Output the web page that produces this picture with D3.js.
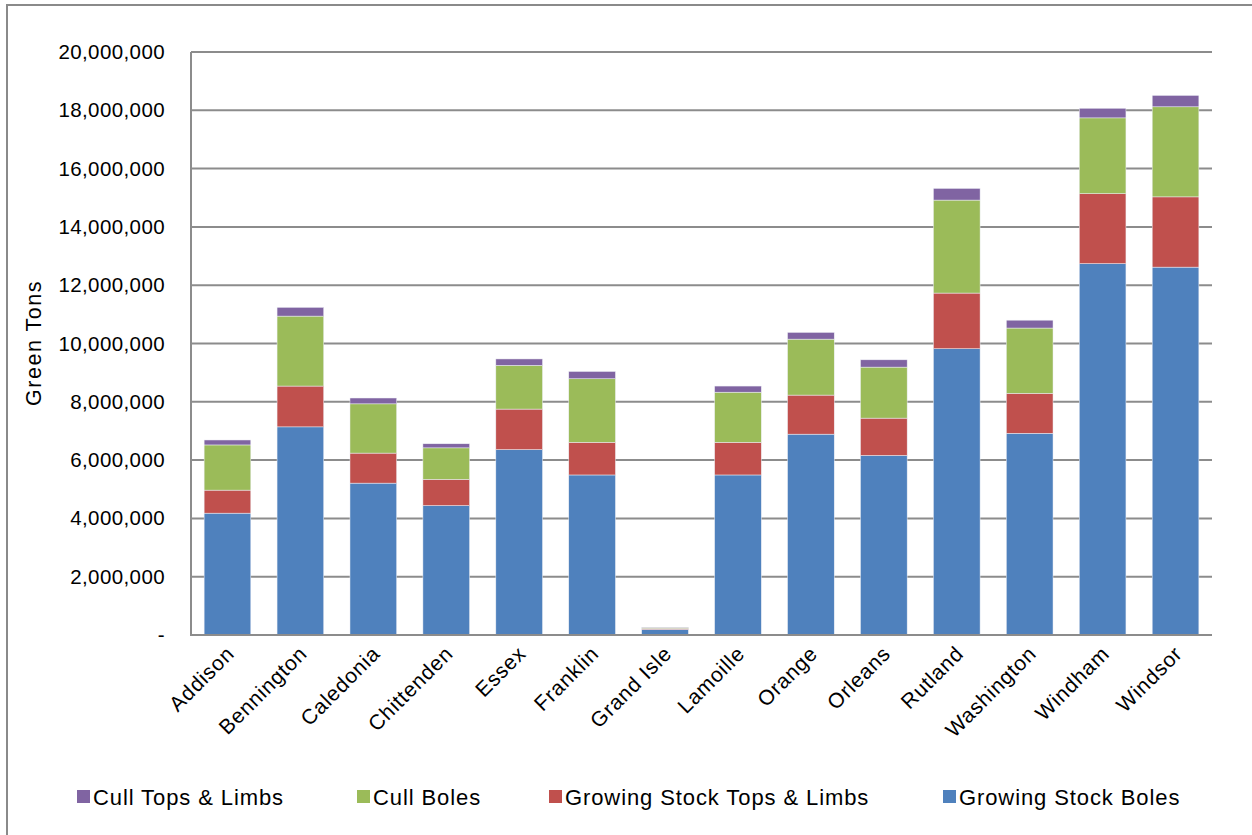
<!DOCTYPE html>
<html><head><meta charset="utf-8">
<script src="https://cdn.jsdelivr.net/npm/d3@7"></script>
<style>body{margin:0;background:#fff}svg{display:block}text{font-family:"Liberation Sans",Arial,sans-serif;fill:#000}</style>
</head><body>
<script>
const counties = ["Addison","Bennington","Caledonia","Chittenden","Essex","Franklin","Grand Isle","Lamoille","Orange","Orleans","Rutland","Washington","Windham","Windsor"];
const growingStockBoles = [4180000,7140000,5210000,4440000,6360000,5490000,190000,5490000,6890000,6160000,9820000,6920000,12740000,12620000];
const growingStockTopsLimbs = [790000,1400000,1030000,900000,1390000,1120000,35000,1120000,1340000,1280000,1910000,1370000,2400000,2410000];
const cullBoles = [1550000,2400000,1690000,1080000,1500000,2180000,30000,1720000,1920000,1750000,3190000,2240000,2600000,3090000];
const cullTopsLimbs = [170000,300000,200000,140000,220000,250000,8000,210000,230000,250000,400000,270000,330000,390000];
const seriesNames = ["Growing Stock Boles","Growing Stock Tops & Limbs","Cull Boles","Cull Tops & Limbs"];
const seriesColors = ["#4F81BD","#C0504D","#9BBB59","#8064A2"];
const yTicks = [0,2000000,4000000,6000000,8000000,10000000,12000000,14000000,16000000,18000000,20000000];
const legendOrder = ["Cull Tops & Limbs","Cull Boles","Growing Stock Tops & Limbs","Growing Stock Boles"];

const W=1252,H=835;
const svg=d3.select("body").append("svg").attr("width",W).attr("height",H);
svg.append("rect").attr("x",7).attr("y",5).attr("width",1270).attr("height",850)
  .attr("fill","none").attr("stroke","#8a8a8a").attr("stroke-width",2);

const L=191,R=1212,T=52,B=635;
const x=d3.scaleBand().domain(counties).range([L,R]).paddingInner(0.36).paddingOuter(0.18);
const y=d3.scaleLinear().domain([0,20000000]).range([B,T]);

const table=counties.map((c,i)=>({county:c,
  "Growing Stock Boles":growingStockBoles[i],
  "Growing Stock Tops & Limbs":growingStockTopsLimbs[i],
  "Cull Boles":cullBoles[i],
  "Cull Tops & Limbs":cullTopsLimbs[i]}));
const stacked=d3.stack().keys(seriesNames)(table);

// y axis labels
const yAxis=d3.axisLeft(y).tickValues(yTicks).tickSize(0).tickPadding(26)
  .tickFormat(d=>d===0?"-":d3.format(",")(d));
const ga=svg.append("g").attr("transform",`translate(${L},0)`).call(yAxis);
ga.select(".domain").remove();
ga.selectAll("text").style("font-size","20.5px").style("letter-spacing","0.4px")
  .attr("font-family","Liberation Sans, Arial, sans-serif");
// gridlines
svg.append("g").selectAll("line").data(yTicks.filter(d=>d>0)).join("line")
  .attr("x1",L).attr("x2",R).attr("y1",d=>y(d)).attr("y2",d=>y(d))
  .attr("stroke","#8c8c8c").attr("stroke-width",2);

// bars
svg.append("g").selectAll("g").data(stacked).join("g")
  .attr("fill",(d,i)=>seriesColors[i])
  .selectAll("rect").data(d=>d).join("rect")
  .attr("x",d=>x(d.data.county)).attr("width",x.bandwidth())
  .attr("y",d=>y(d[1])).attr("height",d=>y(d[0])-y(d[1]))
  .attr("stroke","#eef0f6").attr("stroke-width",0.5);

// axes lines
svg.append("line").attr("x1",L).attr("x2",L).attr("y1",T).attr("y2",B+1).attr("stroke","#8c8c8c").attr("stroke-width",2);
svg.append("line").attr("x1",L).attr("x2",R).attr("y1",B).attr("y2",B).attr("stroke","#8c8c8c").attr("stroke-width",2);

// x labels
svg.append("g").selectAll("text").data(counties).join("text")
  .attr("text-anchor","end").style("font-size","21px").style("letter-spacing","0.8px")
  .attr("transform",d=>`translate(${x(d)+x.bandwidth()/2+8},${B+20}) rotate(-45)`)
  .text(d=>d);

// y title
svg.append("text").attr("transform",`translate(41,343) rotate(-90)`)
  .attr("text-anchor","middle").style("font-size","21.5px").style("letter-spacing","1.5px").text("Green Tons");

// legend
const legendX=[77,357,549,943];
const lg=svg.append("g").selectAll("g").data(legendOrder).join("g")
  .attr("transform",(d,i)=>`translate(${legendX[i]},790)`);
lg.append("rect").attr("width",13).attr("height",13)
  .attr("fill",d=>seriesColors[seriesNames.indexOf(d)]);
lg.append("text").attr("x",16).attr("y",15).style("font-size","22px").style("letter-spacing","0.9px").text(d=>d);
</script>
</body></html>
